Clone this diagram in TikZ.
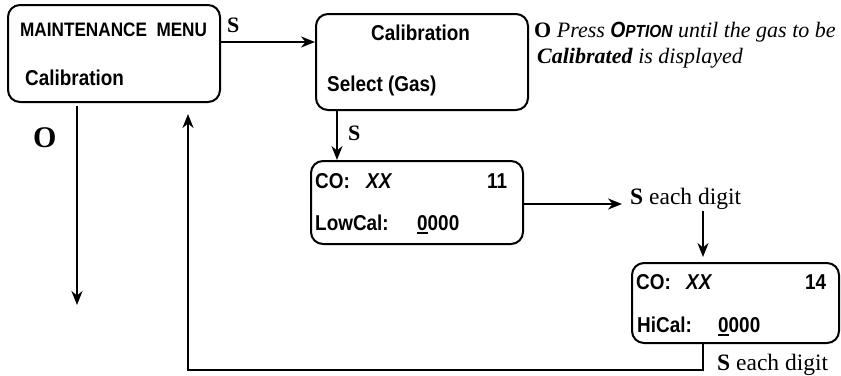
\documentclass[tikz,border=0pt]{standalone}
\usepackage{fontspec}
\setmainfont{Liberation Serif}
\setsansfont{Liberation Sans}[FakeStretch=0.88]
\usetikzlibrary{arrows.meta,calc}
\tikzset{
  box/.style={draw, line width=2pt, rounded corners=12pt, inner sep=0pt},
  arr/.style={line width=2.1pt, -{Stealth[length=14pt,width=11pt]}},
  disp/.style={inner sep=0pt, anchor=base west, font=\sffamily\bfseries\fontsize{21.5pt}{21.5pt}\selectfont},
  dispit/.style={disp, font=\sffamily\bfseries\itshape\fontsize{21.5pt}{21.5pt}\selectfont},
  lbl/.style={inner sep=0pt, anchor=base west, font=\fontsize{22pt}{22pt}\selectfont},
  lblb/.style={lbl, font=\fontsize{23.5pt}{23.5pt}\selectfont},
}
\newcommand\ulzero{\makebox[0pt][l]{\rule[-4pt]{10.5pt}{1.8pt}}0000}
\begin{document}
\begin{tikzpicture}[x=1pt,y=-1pt]
\useasboundingbox (0,0) rectangle (841,375);
% boxes
\node[box, minimum width=212pt, minimum height=97pt] (b1) at (114,53.5) {};
\node[box, minimum width=212pt, minimum height=96pt] (b2) at (422,62) {};
\node[box, minimum width=212pt, minimum height=83pt] (b3) at (417,202.5) {};
\node[box, minimum width=207pt, minimum height=80pt] (b4) at (735.5,303) {};
% box texts
\node[disp, font=\sffamily\bfseries\fontsize{19.5pt}{19.5pt}\selectfont] (t1a) at (20,36) {MAINTENANCE\ \ MENU};
\node[disp] (t1b) at (25,85) {Calibration};
\node[disp] (t2a) at (371,40) {Calibration};
\node[disp] (t2b) at (327,91) {Select (Gas)};
\node[disp] (t3a) at (315,188) {CO:};
\node[dispit] (t3b) at (366,188) {XX};
\node[disp] (t3c) at (487,188) {11};
\node[disp] (t3d) at (315,230) {LowCal:};
\node[disp] (t3e) at (417,230) {\ulzero};
\node[disp] (t4a) at (636,289) {CO:};
\node[dispit] (t4b) at (686,289) {XX};
\node[disp] (t4c) at (805,289) {14};
\node[disp] (t4d) at (637,332) {HiCal:};
\node[disp] (t4e) at (718,332) {\ulzero};
% labels
\node[lbl] (s1) at (227,32) {\textbf{S}};
\node[lbl, font=\bfseries\fontsize{30pt}{30pt}\selectfont] (o1) at (33,147) {O};
\node[lbl] (s4) at (348,140) {\textbf{S}};
\node[lblb] (s2) at (630,204) {\textbf{S} each digit};
\node[lblb] (s3) at (717,370) {\textbf{S} each digit};
\node[lbl] (n1) at (534,37) {\textbf{O} \textit{Press} {\sffamily\bfseries\itshape O{\fontsize{17.5pt}{17.5pt}\selectfont PTION}} \textit{until the gas to be}};
\node[lbl] (n2) at (537,63) {\textbf{\textit{Calibrated}} \textit{is displayed}};
% helper coordinates
\coordinate (ya) at (0,42);
\coordinate (xa) at (337,0);
\coordinate (yb) at (0,204);
\coordinate (xb) at (703,0);
\coordinate (yc) at (0,370);
\coordinate (xc) at (188,0);
\coordinate (xd) at (77,0);
\coordinate (ye) at (0,305);
% connectors
\draw[arr] (b1.east |- ya) -- (b2.west |- ya);
\draw[arr] (b2.south -| xa) -- (b3.north -| xa);
\draw[arr] (b3.east |- yb) -- ([xshift=-8pt]s2.west |- yb);
\draw[arr] ([yshift=-2pt]s2.south -| xb) -- ([yshift=5pt]b4.north -| xb);
\draw[arr] (b4.south -| xb) -- (xb |- yc) -| ([yshift=-11pt]b1.south -| xc);
\draw[arr] ([yshift=-3pt]b1.south -| xd) -- (xd |- ye);
\end{tikzpicture}
\end{document}
